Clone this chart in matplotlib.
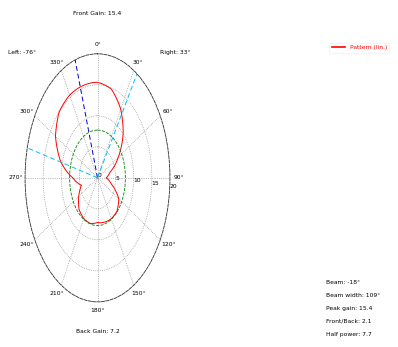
import numpy as np
import matplotlib
matplotlib.use("Agg")
import matplotlib.pyplot as plt

# Measured radiation pattern (angle clockwise from north, degrees) and gain (linear units)
angles_deg = [-180, -165, -150, -135, -120, -105, -90, -75, -60, -45, -30, -15,
              0, 15, 30, 45, 60, 75, 90, 105, 120, 135, 150, 165, 180]
gain = [7.2, 7.6, 7.6, 7.2, 6.0, 4.6, 6.8, 10.6, 13.4, 15.0, 15.4, 15.4,
        15.4, 14.8, 12.8, 10.0, 6.6, 3.6, 2.4, 4.0, 6.8, 7.6, 7.6, 7.4, 7.2]

peak_gain = 15.4
half_power = 7.7
main_beam_deg = -18
hpbw_edges_deg = [-76, 33]
back_gain = 7.2

r_ticks = [0, 5, 10, 15, 20]
theta_ticks = [0, 30, 60, 90, 120, 150, 180, 210, 240, 270, 300, 330]
theta_labels = ["0°", "30°", "60°", "90°", "120°", "150°", "180°",
                "210°", "240°", "270°", "300°", "330°"]

stats_lines = ["Beam: -18°",
               "Beam width: 109°",
               "Peak gain: 15.4",
               "Front/Back: 2.1",
               "Half power: 7.7"]

fs = 4.3
fig = plt.figure(figsize=(3.98, 3.47), dpi=100)
ax = fig.add_axes([0.063, 0.130, 0.364, 0.715], projection="polar")
ax.set_aspect("auto")
ax.set_theta_zero_location("N")
ax.set_theta_direction(-1)
ax.set_ylim(0, 20)

theta = np.deg2rad(angles_deg)
pattern_line, = ax.plot(theta, gain, color="red", lw=0.7, label="Pattern (lin.)")
# draw each segment as a polar arc instead of a straight chord
pattern_line.get_path()._interpolation_steps = 30

# half-power reference circle
circ_t = np.linspace(0, 2 * np.pi, 361)
ax.plot(circ_t, np.full_like(circ_t, half_power), color="green", lw=0.6, ls="--")

# main beam direction and half-power beamwidth edges
ax.plot([np.deg2rad(main_beam_deg)] * 2, [0, 20], color="mediumblue", lw=0.7,
        ls=(0, (5, 3)))
for a in hpbw_edges_deg:
    ax.plot([np.deg2rad(a)] * 2, [0, 20], color="deepskyblue", lw=0.7, ls=(0, (5, 3)))

ax.set_xticks(np.deg2rad(theta_ticks))
ax.set_xticklabels(theta_labels, fontsize=fs)
ax.tick_params(axis="x", pad=-4)
ax.set_yticks(r_ticks)
ax.set_yticklabels([str(v) for v in r_ticks], fontsize=fs)
ax.set_rlabel_position(95)
ax.grid(True, color="gray", ls=":", lw=0.5)
ax.spines["polar"].set_linestyle("--")
ax.spines["polar"].set_linewidth(0.6)
ax.spines["polar"].set_color("#333333")

ax.set_title(f"Front Gain: {peak_gain}", fontsize=fs, pad=28)
ax.set_xlabel(f"Back Gain: {back_gain}", fontsize=fs, labelpad=11)

fig.text(0.055, 0.85, "Left: -76°", fontsize=fs, ha="center", va="center")
fig.text(0.44, 0.85, "Right: 33°", fontsize=fs, ha="center", va="center")

leg = fig.legend(loc="upper left", bbox_to_anchor=(0.82, 0.885), fontsize=fs,
                 frameon=True, framealpha=0.6, edgecolor="#eeeeee",
                 handlelength=2.2, labelcolor="linecolor")
for h in leg.legend_handles:
    h.set_linewidth(1.2)

fig.text(0.82, 0.03, "\n".join(stats_lines), fontsize=fs, ha="left", va="bottom",
         linespacing=3.0)

fig.savefig("out.png", dpi=100)
